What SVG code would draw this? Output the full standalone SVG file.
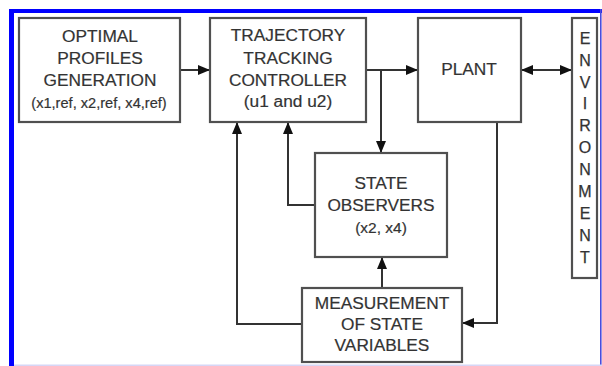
<svg xmlns="http://www.w3.org/2000/svg" width="602" height="366" viewBox="0 0 602 366">
  <style>
    .box { fill: #ffffff; stroke: #505050; stroke-width: 2.2; }
    .lbl { font-family: "Liberation Sans", Arial, sans-serif; font-size: 17.3px; fill: #333333; stroke: #333333; stroke-width: 0.2; text-anchor: middle; }
    .sub { font-size: 14.6px; }
    .obs { font-size: 15.5px; }
    .env { font-family: "Liberation Sans", Arial, sans-serif; font-size: 16px; fill: #333333; stroke: #333333; stroke-width: 0.25; text-anchor: middle; }
    .wire { fill: none; stroke: #333333; stroke-width: 2; }
  </style>
  <defs>
    <marker id="arrow" viewBox="0 0 12 10" refX="12" refY="5" markerWidth="12" markerHeight="10" markerUnits="userSpaceOnUse" orient="auto-start-reverse">
      <path d="M0,0 L12,5 L0,10 Z" fill="#111111"/>
    </marker>
  </defs>

  <rect width="602" height="366" fill="#ffffff"/>

  <!-- frame -->
  <g id="frame">
    <rect x="9" y="9" width="5" height="357" fill="#0000ff"/>
    <rect x="9" y="9" width="593" height="4" fill="#0000ff"/>
    <line x1="600.8" y1="9" x2="600.8" y2="366" stroke="#4b4bdc" stroke-width="1.6"/>
    <line x1="14" y1="365.3" x2="602" y2="365.3" stroke="#d6d6f6" stroke-width="1.4"/>
  </g>

  <!-- connectors -->
  <g id="connectors">
    <line class="wire" x1="180" y1="70" x2="210" y2="70" marker-end="url(#arrow)"/>
    <line class="wire" x1="366" y1="70" x2="418" y2="70" marker-end="url(#arrow)"/>
    <line class="wire" x1="381" y1="70" x2="381" y2="153" marker-end="url(#arrow)"/>
    <line class="wire" x1="521" y1="70" x2="572" y2="70" marker-start="url(#arrow)" marker-end="url(#arrow)"/>
    <polyline class="wire" points="497,122 497,323 462,323" marker-end="url(#arrow)"/>
    <line class="wire" x1="382" y1="288" x2="382" y2="257" marker-end="url(#arrow)"/>
    <polyline class="wire" points="315,205 288,205 288,122" marker-end="url(#arrow)"/>
    <polyline class="wire" points="302,324 237,324 237,122" marker-end="url(#arrow)"/>
  </g>

  <g id="profiles">
    <rect class="box" x="19" y="18" width="161" height="104"/>
    <text class="lbl" x="100" y="42">OPTIMAL</text>
    <text class="lbl" x="100" y="64">PROFILES</text>
    <text class="lbl" x="100" y="86">GENERATION</text>
    <text class="lbl sub" x="99" y="108">(x1,ref, x2,ref, x4,ref)</text>
  </g>

  <g id="controller">
    <rect class="box" x="210" y="18" width="156" height="104"/>
    <text class="lbl" x="288" y="41">TRAJECTORY</text>
    <text class="lbl" x="288" y="64">TRACKING</text>
    <text class="lbl" x="288" y="86">CONTROLLER</text>
    <text class="lbl" x="288" y="107">(u1 and u2)</text>
  </g>

  <g id="plant">
    <rect class="box" x="418" y="18" width="103" height="104"/>
    <text class="lbl" x="469" y="75">PLANT</text>
  </g>

  <g id="environment">
    <rect class="box" x="572" y="18" width="25" height="260"/>
    <text class="env" x="585" y="44">E</text>
    <text class="env" x="585" y="66">N</text>
    <text class="env" x="585" y="88">V</text>
    <text class="env" x="585" y="109">I</text>
    <text class="env" x="585" y="131">R</text>
    <text class="env" x="585" y="153">O</text>
    <text class="env" x="585" y="175">N</text>
    <text class="env" x="585" y="197">M</text>
    <text class="env" x="585" y="219">E</text>
    <text class="env" x="585" y="241">N</text>
    <text class="env" x="585" y="263">T</text>
  </g>

  <g id="observers">
    <rect class="box" x="315" y="153" width="132" height="104"/>
    <text class="lbl" x="381" y="189">STATE</text>
    <text class="lbl" x="381" y="211">OBSERVERS</text>
    <text class="lbl obs" x="381" y="233">(x2, x4)</text>
  </g>

  <g id="measurement">
    <rect class="box" x="302" y="288" width="160" height="74"/>
    <text class="lbl" x="382" y="309">MEASUREMENT</text>
    <text class="lbl" x="382" y="330">OF STATE</text>
    <text class="lbl" x="382" y="351">VARIABLES</text>
  </g>
</svg>
